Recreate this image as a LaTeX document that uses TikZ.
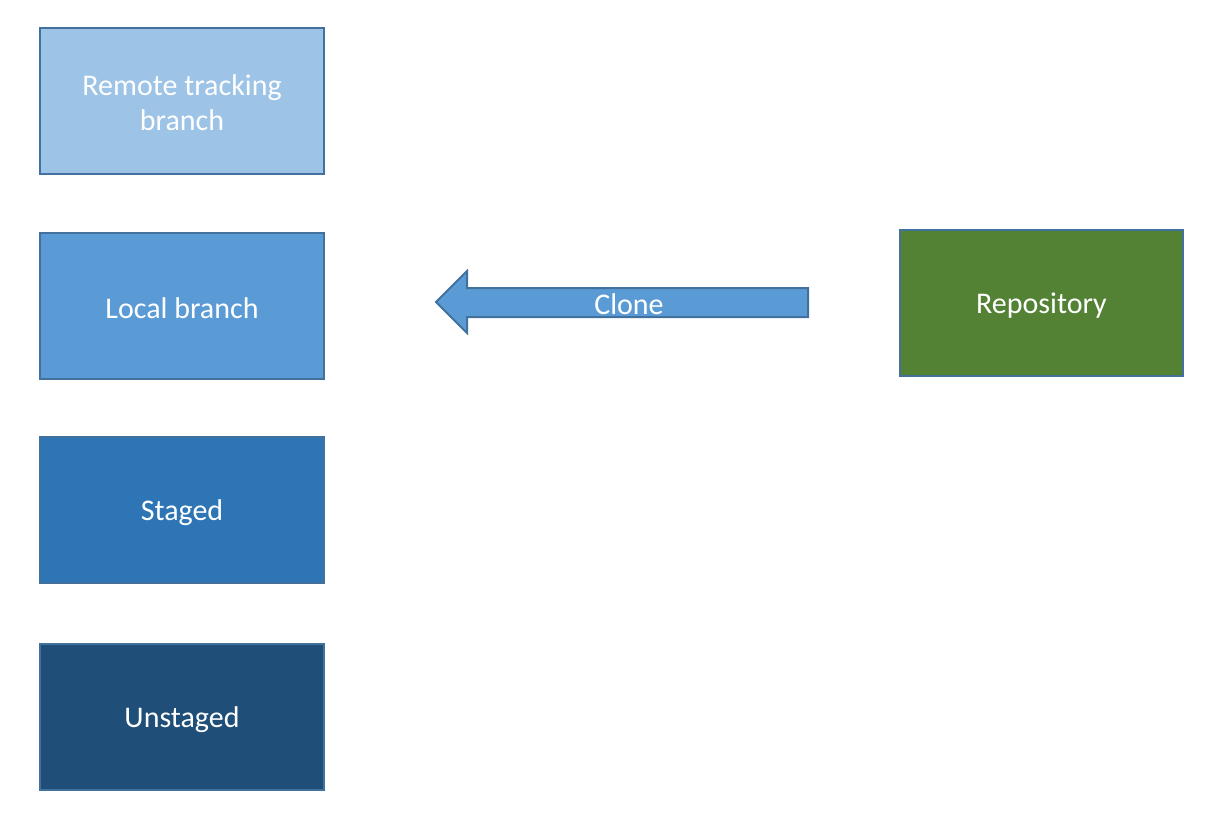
\documentclass[tikz,border=0pt]{standalone}
\usepackage{fontspec}
\setmainfont{Carlito}
\usepackage{tikz}
\usetikzlibrary{positioning}

\definecolor{edgeblue}{HTML}{41719C}
\definecolor{remotefill}{HTML}{9DC3E6}
\definecolor{localfill}{HTML}{5B9BD5}
\definecolor{stagedfill}{HTML}{2E75B6}
\definecolor{unstagedfill}{HTML}{1F4E79}
\definecolor{repofill}{HTML}{548235}

\tikzset{
    gitbox/.style={draw=edgeblue, line width=2pt, minimum width=284pt,
        minimum height=146pt, inner sep=0pt},
    gitlabel/.style={text=white, inner sep=0pt, align=center,
        font=\fontsize{30}{35}\selectfont}
}

\begin{document}
\begin{tikzpicture}[x=1pt, y=-1pt]
        \useasboundingbox (0,0) rectangle (1227,819);

        % Boxes on the left
        \node[gitbox, fill=remotefill, label={[gitlabel, yshift=-2pt]center:Remote tracking\\branch}] (remote) at (182,101) {};
        \node[gitbox, fill=localfill, label={[gitlabel, yshift=-2.5pt]center:Local branch}] (local) at (182,306) {};
        \node[gitbox, fill=stagedfill, label={[gitlabel, yshift=-2.5pt]center:Staged}] (staged) at (182,510) {};
        \node[gitbox, fill=unstagedfill, label={[gitlabel, yshift=-2.5pt]center:Unstaged}] (unstaged) at (182,717) {};

        % Repository
        \node[gitbox, fill=repofill, minimum width=283pt, label={[gitlabel, yshift=-2.5pt]center:Repository}] (repo) at (1041.5,303) {};

        % Clone arrow
        \draw[draw=edgeblue, line width=2pt, fill=localfill, line join=miter]
            (808,288) -- (467,288) -- (467,271) -- (436,302) -- (467,333)
            -- (467,317) -- (808,317) -- cycle;
        \node[gitlabel, yshift=-1.5pt] (clone) at (629,303) {Clone};
    \end{tikzpicture}
\end{document}
